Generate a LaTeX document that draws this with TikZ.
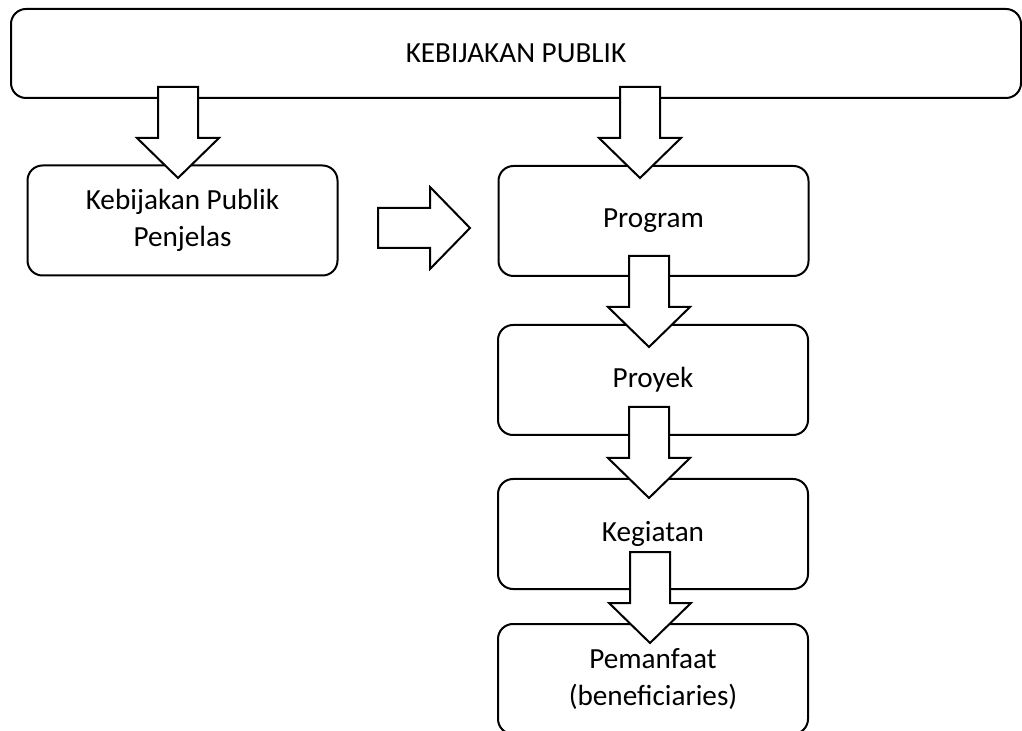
\documentclass[tikz,border=0pt]{standalone}
\usepackage{fontspec}
\setmainfont{Carlito}
\newcommand{\panahbawah}[1]{\draw [blok] (#1) -- ++(-41, -40) -- ++(21, 0) -- ++(0, -51) -- ++(40, 0) -- ++(0, 51) -- ++(21, 0) -- cycle;}
\newcommand{\panahkanan}[1]{\draw [blok] (#1) -- ++(-40, -41) -- ++(0, 21) -- ++(-52, 0) -- ++(0, 40) -- ++(52, 0) -- ++(0, 21) -- cycle;}
\begin{document}
\begin{tikzpicture}[x = 0.5pt, y = -0.5pt, line width = 1pt,
                        box/.style = {draw, rounded corners = 7.5pt, align = center, inner sep = 0pt,
                                      minimum width = 155pt, minimum height = 55pt,
                                      font = \fontsize{14.6}{18.8}\selectfont},
                        blok/.style = {draw, fill = white, line join = miter}]
      \clip (0, 0) rectangle (1022, 731);
      \node [box, minimum width = 505pt, minimum height = 44.5pt] (kp) at (516, 53.5){KEBIJAKAN PUBLIK};
      \node [box] (pj) at (182.5, 220.5){Kebijakan Publik\\Penjelas};
      \node [box] (pg) at (653.5, 221){Program};
      \node [box] (py) at (653, 380){Proyek};
      \node [box] (kg) at (653, 534){Kegiatan};
      \node [box] (pm) at (653, 679){Pemanfaat\\(beneficiaries)};
      \coordinate (t1) at (178, 178);
      \coordinate (t2) at (640, 178);
      \coordinate (t3) at (649, 347);
      \coordinate (t4) at (649, 498);
      \coordinate (t5) at (650, 643);
      \coordinate (t6) at (470, 228);
      \panahbawah{t1}
      \panahbawah{t2}
      \panahbawah{t3}
      \panahbawah{t4}
      \panahbawah{t5}
      \panahkanan{t6}

      \end{tikzpicture}
\end{document}
